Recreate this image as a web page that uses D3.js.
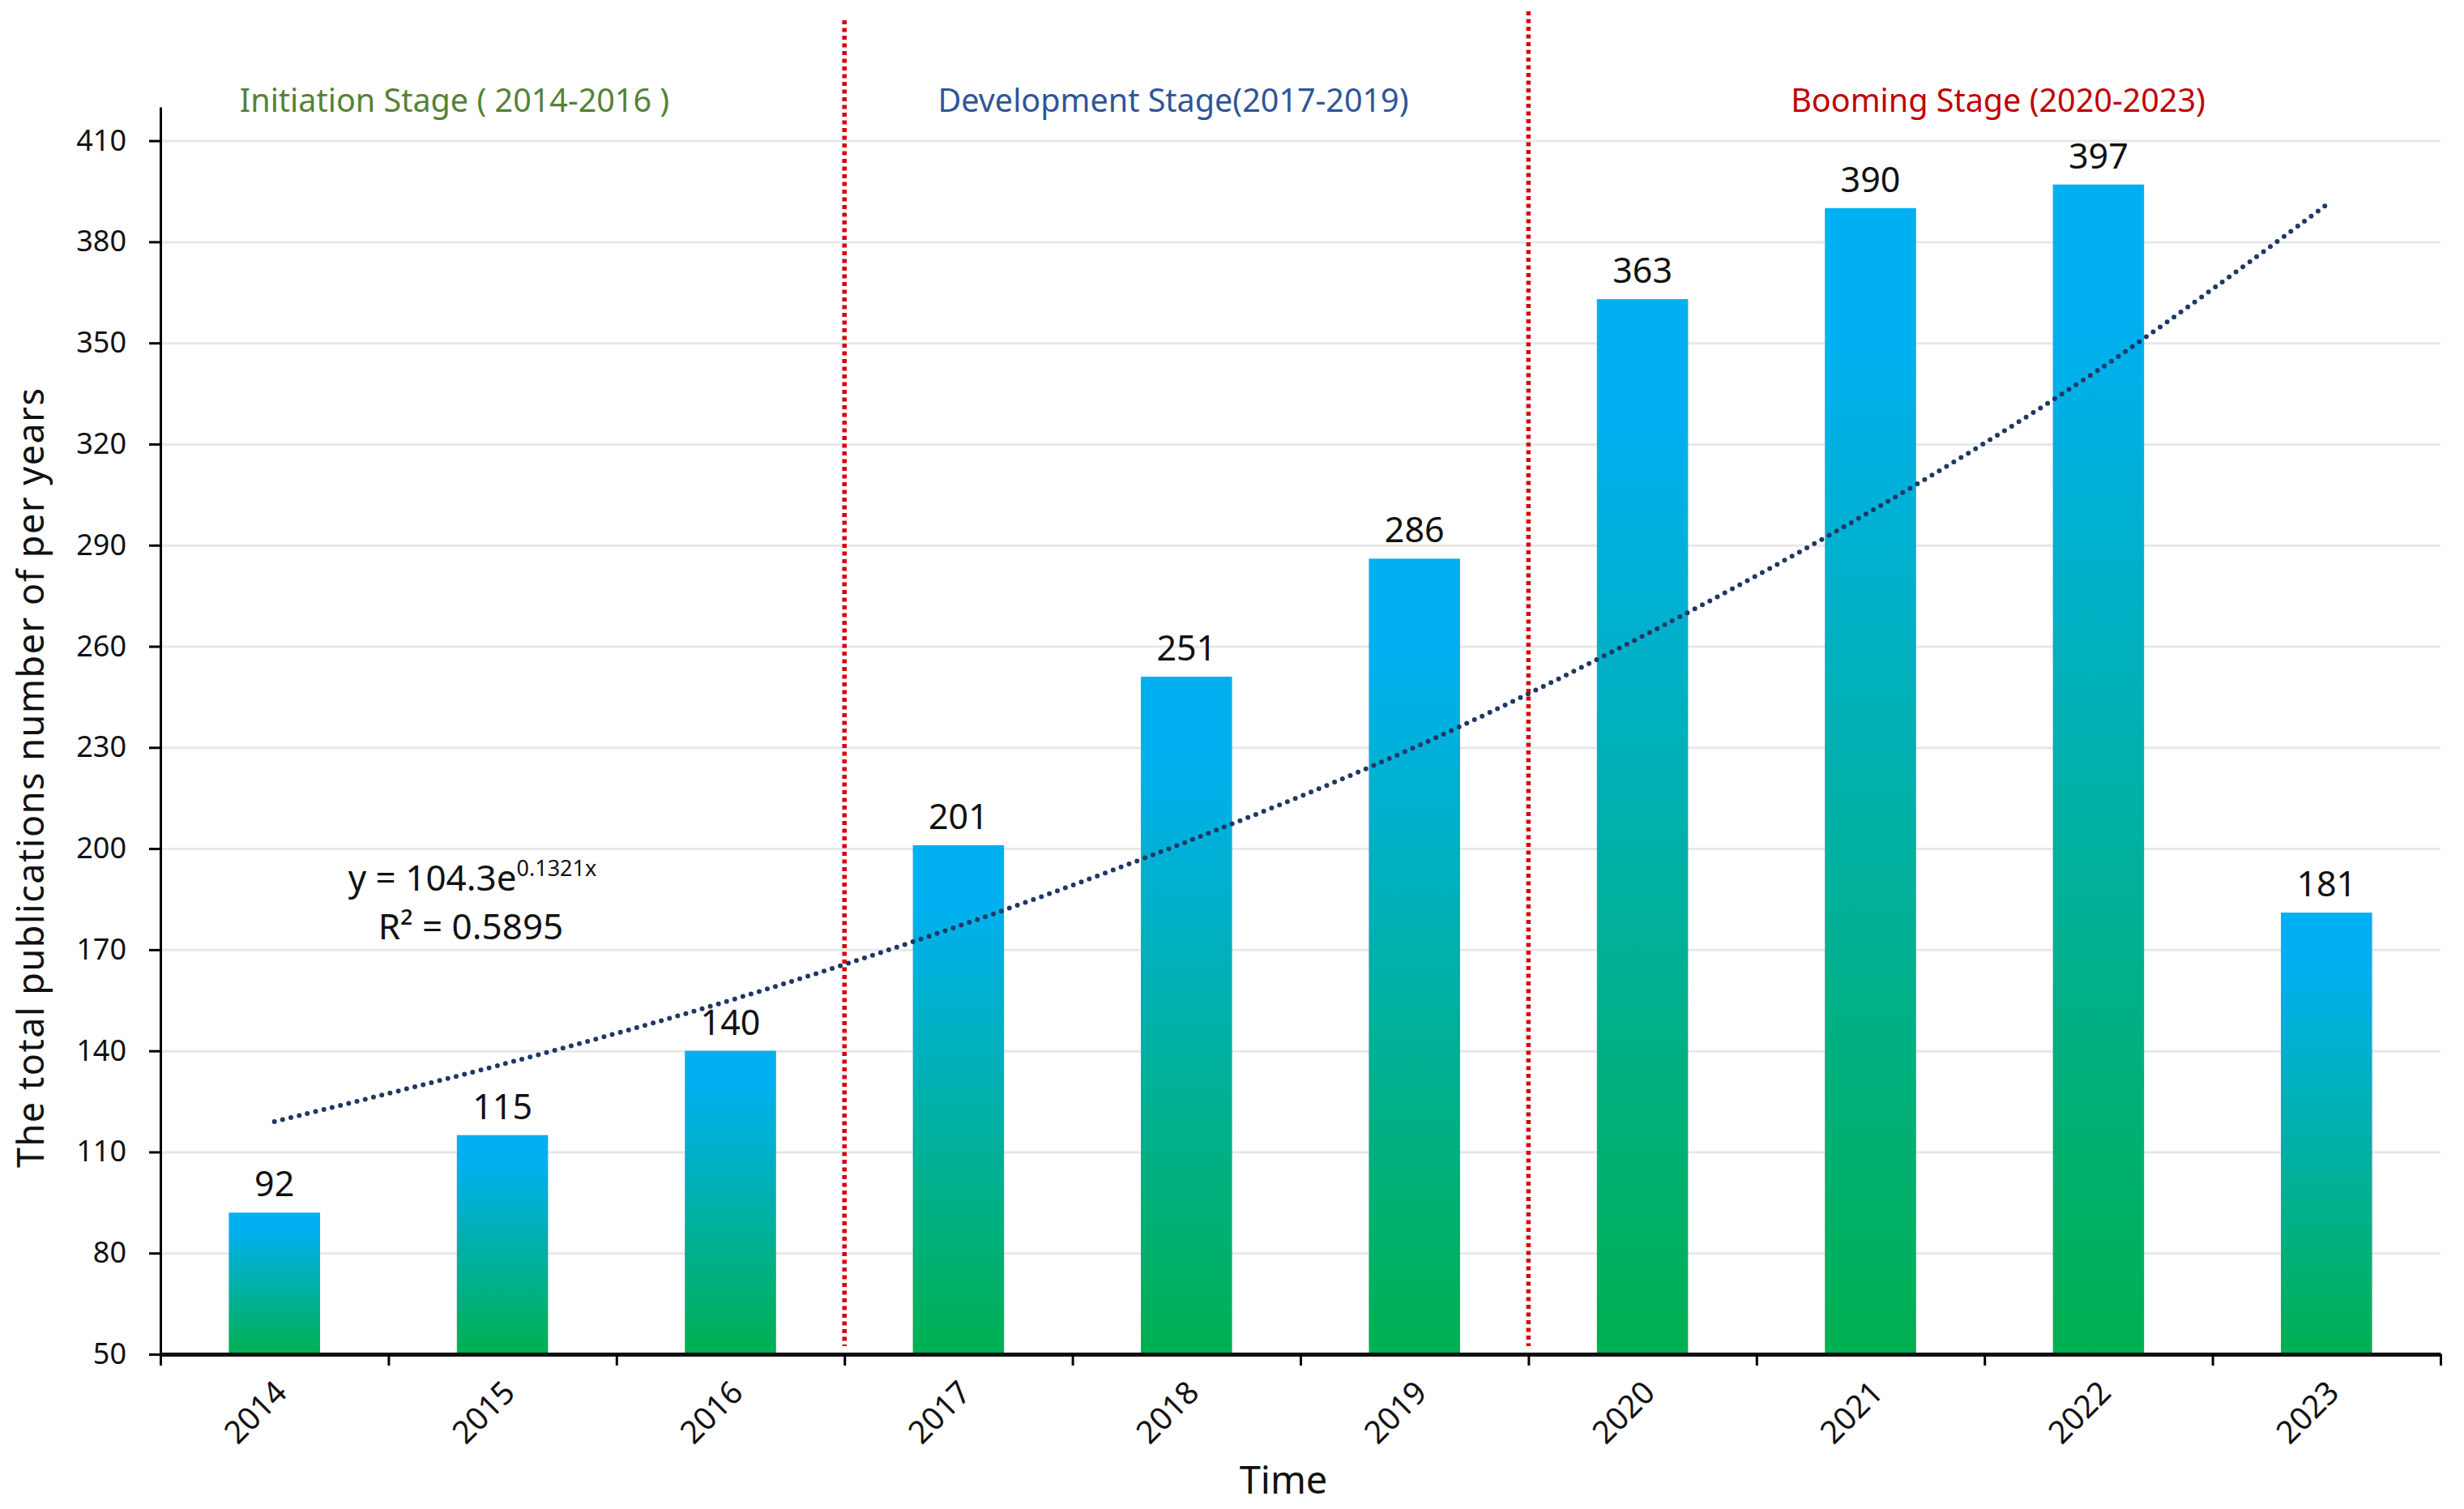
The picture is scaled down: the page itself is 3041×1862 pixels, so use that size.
<!DOCTYPE html>
<html>
<head>
<meta charset="utf-8">
<script src="https://cdnjs.cloudflare.com/ajax/libs/d3/7.8.5/d3.min.js"></script>
<style>
    body { margin: 0; background: #fff; }
    svg { display: block; }
</style>
</head>
<body>
<svg id="chart" width="3041" height="1862"></svg>
<script>
// Data
const years = ["2014", "2015", "2016", "2017", "2018", "2019", "2020", "2021", "2022", "2023"]
const counts = [92, 115, 140, 201, 251, 286, 363, 390, 397, 181]
// exponential trendline values at each year
const trendValues = [119, 136, 155, 177, 202, 230, 263, 300, 342, 391]
const yTicks = [50, 80, 110, 140, 170, 200, 230, 260, 290, 320, 350, 380, 410]
const stageNames = ["Initiation Stage ( 2014-2016 )", "Development Stage(2017-2019)", "Booming Stage (2020-2023)"]
const stageColors = ["#548235", "#2F5597", "#C00000"]
const stageStartYears = ["2017", "2020"] // red dotted separators sit before these
const equationMain = "y = 104.3e"
const equationExp = "0.1321x"
const rSquared = "R² = 0.5895"

// layout
const width = 3041
const height = 1862
let plotLeft = 198
let plotRight = 3012
let plotBottom = 1671
let plotTop = 132
let font = "'Noto Sans', 'Open Sans', sans-serif"

let svg = d3.select("#chart")

svg.append("rect").attr("width", width).attr("height", height).attr("fill", "#fff")

let x = d3.scaleBand()
    .domain(years)
    .range([plotLeft, plotRight])
    .paddingInner(0.6)
    .paddingOuter(0.3)

// category edges, used for the x tick marks and the stage separators
let xEdge = d3.scaleLinear()
    .domain([0, years.length])
    .range([plotLeft, plotRight])

let y = d3.scaleLinear()
    .domain([50, 420])
    .range([plotBottom, plotTop])

// gradient for the bars, blue at the top fading to green
let grad = svg.append("defs").append("linearGradient")
    .attr("id", "barGrad")
    .attr("x1", 0).attr("y1", 0).attr("x2", 0).attr("y2", 1)
grad.append("stop").attr("offset", "0").attr("stop-color", "#00B0F0")
grad.append("stop").attr("offset", "0.12").attr("stop-color", "#00B0F0")
grad.append("stop").attr("offset", "1").attr("stop-color", "#00B050")

// gridlines
svg.append("g")
    .attr("transform", `translate(${plotLeft},0)`)
    .call(d3.axisLeft(y).tickValues(yTicks).tickSize(-(plotRight - plotLeft)).tickFormat(""))
    .call(g => g.select(".domain").remove())
    .call(g => g.selectAll("line").attr("stroke", "#e8e8e8").attr("stroke-width", 3))

// bars
svg.append("g").selectAll("rect")
    .data(counts)
    .join("rect")
    .attr("x", (d, i) => x(years[i]))
    .attr("y", d => y(d))
    .attr("width", x.bandwidth())
    .attr("height", d => y(50) - y(d))
    .attr("fill", "url(#barGrad)")

// value labels
svg.append("g").selectAll("text")
    .data(counts)
    .join("text")
    .attr("x", (d, i) => x(years[i]) + x.bandwidth() / 2)
    .attr("y", d => y(d) - 20)
    .attr("text-anchor", "middle")
    .attr("font-family", font)
    .attr("font-size", 43)
    .attr("fill", "#111")
    .text(d => d)

// stage separators
svg.append("g").selectAll("line")
    .data(stageStartYears)
    .join("line")
    .attr("x1", d => xEdge(years.indexOf(d)))
    .attr("x2", d => xEdge(years.indexOf(d)))
    .attr("y1", (d, i) => i == 0 ? 25 : 14)
    .attr("y2", plotBottom - 10)
    .attr("stroke", "#D90000")
    .attr("stroke-width", 5.5)
    .attr("stroke-dasharray", "5 4.5")

// stage labels
let stageLabelX = [561, 1448, 2466]
svg.append("g").selectAll("text")
    .data(stageNames)
    .join("text")
    .attr("x", (d, i) => stageLabelX[i])
    .attr("y", 138)
    .attr("text-anchor", "middle")
    .attr("font-family", font)
    .attr("font-size", 39.5)
    .attr("fill", (d, i) => stageColors[i])
    .text(d => d)

// trendline
let trend = d3.line()
    .x((d, i) => x(years[i]) + x.bandwidth() / 2)
    .y(d => y(d))
    .curve(d3.curveCatmullRom)

svg.append("path")
    .datum(trendValues)
    .attr("d", trend)
    .attr("fill", "none")
    .attr("stroke", "#1F3864")
    .attr("stroke-width", 6)
    .attr("stroke-linecap", "round")
    .attr("stroke-dasharray", "0 10.5")

// equation
let eq = svg.append("text")
    .attr("x", 583)
    .attr("y", 1099)
    .attr("text-anchor", "middle")
    .attr("font-family", font)
    .attr("font-size", 44)
    .attr("fill", "#111")
eq.append("tspan").text(equationMain)
eq.append("tspan").attr("dy", -18).attr("font-size", 27).text(equationExp)

svg.append("text")
    .attr("x", 581)
    .attr("y", 1159)
    .attr("text-anchor", "middle")
    .attr("font-family", font)
    .attr("font-size", 44)
    .attr("fill", "#111")
    .text(rSquared)

// y axis
svg.append("g")
    .attr("transform", `translate(${plotLeft},0)`)
    .call(d3.axisLeft(y).tickValues(yTicks).tickSize(14).tickSizeOuter(0).tickPadding(28))
    .call(g => g.select(".domain").attr("stroke", "#000").attr("stroke-width", 3))
    .call(g => g.selectAll(".tick line").attr("stroke", "#000").attr("stroke-width", 3))
    .call(g => g.selectAll(".tick text")
        .attr("font-family", font)
        .attr("font-size", 36)
        .attr("fill", "#111"))

// x axis: ticks on category edges
svg.append("g")
    .attr("transform", `translate(0,${plotBottom})`)
    .call(d3.axisBottom(xEdge).ticks(years.length).tickSize(14).tickSizeOuter(0).tickFormat(""))
    .call(g => g.select(".domain").attr("stroke", "#111").attr("stroke-width", 5))
    .call(g => g.selectAll(".tick line").attr("stroke", "#000").attr("stroke-width", 3))

// rotated year labels
svg.append("g").selectAll("text")
    .data(years)
    .join("text")
    .attr("transform", d => `translate(${x(d) + x.bandwidth() / 2 + 8},${plotBottom + 40}) rotate(-45)`)
    .attr("text-anchor", "end")
    .attr("dy", "0.35em")
    .attr("font-family", font)
    .attr("font-size", 39)
    .attr("fill", "#111")
    .text(d => d)

// axis titles
svg.append("text")
    .attr("x", 1584)
    .attr("y", 1843)
    .attr("text-anchor", "middle")
    .attr("font-family", font)
    .attr("font-size", 47)
    .attr("fill", "#111")
    .text("Time")

svg.append("text")
    .attr("transform", "translate(54,960) rotate(-90)")
    .attr("text-anchor", "middle")
    .attr("font-family", font)
    .attr("font-size", 45)
    .attr("textLength", 962)
    .attr("fill", "#111")
    .text("The total publications number of per years")
</script>
</body>
</html>
